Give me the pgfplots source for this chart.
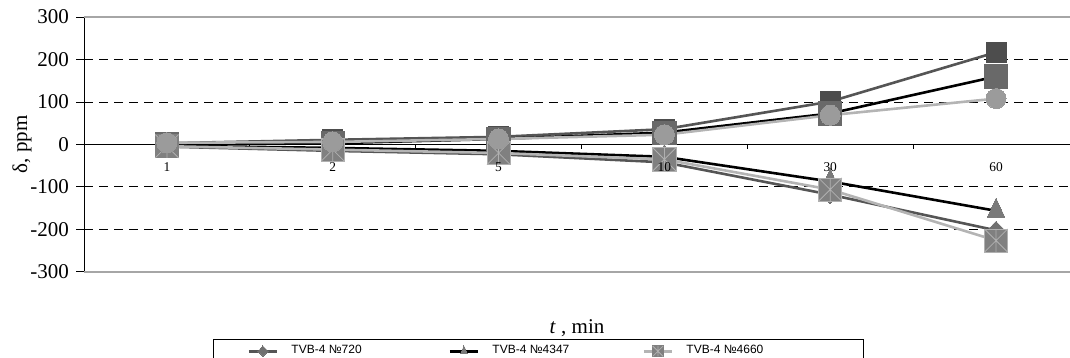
\documentclass[border=0pt]{standalone}
\usepackage{pgfplots}
\pgfplotsset{compat=1.18}
\usepackage{fontspec}
\setmainfont{Liberation Serif}
\newfontfamily\legfont{Liberation Sans}
\definecolor{lnA}{HTML}{555555}
\definecolor{lnC}{HTML}{B4B4B4}
\definecolor{mkDia}{HTML}{707070}
\definecolor{mkTri}{HTML}{7A7A7A}
\definecolor{mkXsq}{HTML}{808080}
\definecolor{xline}{HTML}{B0B0B0}
\definecolor{mkSqA}{HTML}{4D4D4D}
\definecolor{mkSqB}{HTML}{696969}
\definecolor{mkCir}{HTML}{9B9B9B}
\pgfdeclareplotmark{xsq}{%
  \pgfpathrectangle{\pgfqpoint{-\pgfplotmarksize}{-\pgfplotmarksize}}{\pgfqpoint{2\pgfplotmarksize}{2\pgfplotmarksize}}%
  \pgfusepathqfillstroke
  \pgfsetstrokecolor{xline}%
  \pgfsetlinewidth{0.4pt}%
  \pgfpathmoveto{\pgfqpoint{-\pgfplotmarksize}{-\pgfplotmarksize}}%
  \pgfpathlineto{\pgfqpoint{\pgfplotmarksize}{\pgfplotmarksize}}%
  \pgfpathmoveto{\pgfqpoint{-\pgfplotmarksize}{\pgfplotmarksize}}%
  \pgfpathlineto{\pgfqpoint{\pgfplotmarksize}{-\pgfplotmarksize}}%
  \pgfpathmoveto{\pgfqpoint{0pt}{-\pgfplotmarksize}}%
  \pgfpathlineto{\pgfqpoint{0pt}{\pgfplotmarksize}}%
  \pgfusepathqstroke
}
\tikzset{catlab/.style={font=\fontsize{6.7}{8}\selectfont, text=black, inner sep=0pt, anchor=north, yshift=-8.8pt}}
\begin{document}
\begin{tikzpicture}
\begin{axis}[
  set layers,
  at={(0,0)}, anchor=south west,
  scale only axis, width=493pt, height=127.5pt,
  xmin=0.5, xmax=6.446, ymin=-300, ymax=300,
  clip=false,
  axis x line*=middle, axis y line*=left,
  axis line style={black, line width=0.5pt},
  xtick={1,2,3,4,5,6},
  xticklabels={},
  minor xtick={1.5,2.5,3.5,4.5,5.5},
  major x tick style={draw=none},
  ytick={-300,-200,-100,0,100,200,300},
  tick align=outside,
  major tick length=4pt,
  minor tick length=2pt,
  tick style={black, line width=0.5pt},
  ymajorgrids,
  y grid style={black, line width=0.5pt, dash pattern=on 4.5pt off 3pt},
  /pgf/number format/assume math mode=true,
  yticklabel style={font=\fontsize{10.5}{12}\selectfont},
  ylabel={δ, ppm},
  ylabel style={font=\fontsize{10.5}{12}\selectfont, at={(axis description cs:-0.0629,0.5)}, anchor=center},
  xlabel={\textit{t} , min},
  xlabel style={font=\fontsize{10.5}{12}\selectfont, at={(axis description cs:0.5,-0.2196)}, anchor=center},
  legend columns=3,
  legend style={at={(axis description cs:0.1308,-0.2627)}, anchor=north west,
    draw=black, line width=0.5pt, inner xsep=17pt, inner ysep=3pt,
    /tikz/column sep=0pt,
    nodes={inner sep=0pt, font=\legfont\fontsize{6}{7}\selectfont}},
  legend image code/.code={\draw[#1, line width=1.5pt, mark size=2.6pt, mark repeat=2, mark phase=2] plot coordinates {(0pt,0pt) (7pt,0pt) (14pt,0pt)};},
]
\draw[gray!70, line width=0.6pt] (axis cs:0.5,300) -- (axis cs:6.446,300);
\draw[gray!70, line width=0.6pt] (axis cs:0.5,-300) -- (axis cs:6.446,-300);
% upper series (not in legend)
\addplot[forget plot, lnA, line width=1.3pt, mark=square*, mark size=5pt, mark options={fill=mkSqA, draw=mkSqA, line width=0pt}]
  coordinates {(1,3) (2,11) (3,18) (4,36) (5,101) (6,217)};
\addplot[forget plot, black, line width=1.3pt, mark=square*, mark size=5.8pt, mark options={fill=mkSqB, draw=mkSqB, line width=0pt}]
  coordinates {(1,2) (2,3) (3,13) (4,28) (5,73) (6,160)};
% lower series (legend)
\addplot[lnA, line width=1.3pt, mark=diamond*, mark size=4.5pt, mark options={fill=mkDia, draw=mkDia, line width=0pt, xscale=1.3}]
  coordinates {(1,-5) (2,-15) (3,-23) (4,-42) (5,-118) (6,-202)};
\addlegendentry{\makebox[85pt][l]{\hspace{6.5pt}TVB-4 №720}}
\addplot[black, line width=1.3pt, mark=triangle*, mark size=6.3pt, mark options={fill=mkTri, draw=mkTri, line width=0pt, xscale=0.8}]
  coordinates {(1,-3) (2,-8) (3,-15) (4,-29) (5,-87) (6,-156)};
\addlegendentry{\makebox[81.5pt][l]{\hspace{6.5pt}TVB-4 №4347}}
\addplot[lnC, line width=1.3pt, mark=xsq, mark size=5.8pt, mark options={fill=mkXsq, draw=mkXsq, line width=0pt}]
  coordinates {(1,-4) (2,-12) (3,-20) (4,-35) (5,-106) (6,-226)};
\addlegendentry{\makebox[78pt][l]{\hspace{6.5pt}TVB-4 №4660}}
\addplot[forget plot, lnC, line width=1.3pt, mark=*, mark size=5pt, mark options={fill=mkCir, draw=mkCir, line width=0pt}]
  coordinates {(1,4) (2,6) (3,13) (4,23) (5,69) (6,108)};
% category labels drawn on top of the markers
\pgfplotsextra{%
  \begin{pgfonlayer}{axis foreground}
    \node[catlab] at (axis cs:1,0) {1};
    \node[catlab] at (axis cs:2,0) {2};
    \node[catlab] at (axis cs:3,0) {5};
    \node[catlab] at (axis cs:4,0) {10};
    \node[catlab] at (axis cs:5,0) {30};
    \node[catlab] at (axis cs:6,0) {60};
  \end{pgfonlayer}%
}
\end{axis}
\pgfresetboundingbox
\useasboundingbox (-42pt,-43pt) rectangle (493pt,136pt);
\end{tikzpicture}
\end{document}
